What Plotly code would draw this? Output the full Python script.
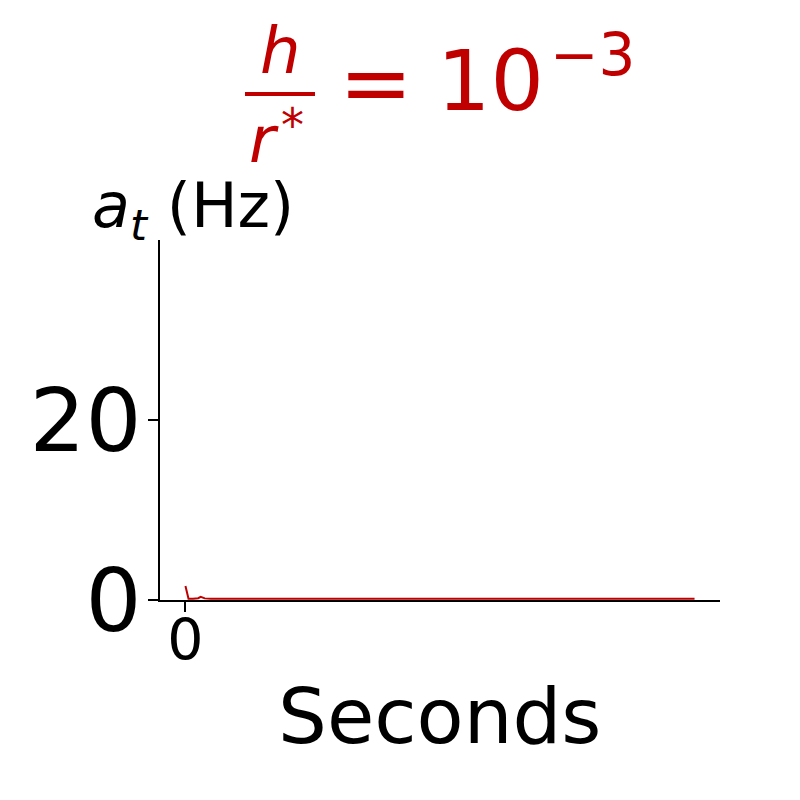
import plotly.graph_objects as go

# Data
t_seconds = [0.0, 0.06, 0.15, 0.25, 0.3, 0.38, 0.5, 1.0, 2.0, 3.0, 4.0, 4.4, 5.0, 6.0, 7.0, 8.0, 9.0, 10.0]
rate_hz = [1.55, 0.15, 0.15, 0.2, 0.35, 0.18, 0.15, 0.15, 0.15, 0.15, 0.15, 0.2, 0.15, 0.15, 0.15, 0.15, 0.15, 0.15]
y_ticks = [0, 20]
x_ticks = [0]

RED = "#c00000"
FONT = "DejaVu Sans"

L, R, T, B = 160, 720, 240, 600
def px(x):
    return (x - L) / (R - L)
def py(y):
    return (B - y) / (B - T)

fig = go.Figure()
fig.add_trace(go.Scatter(x=t_seconds, y=rate_hz, mode="lines",
                         line=dict(color=RED, width=2), showlegend=False))

tmax = max(t_seconds)
fig.update_layout(
    width=800, height=800,
    margin=dict(l=L, r=800 - R, t=T, b=800 - B),
    paper_bgcolor="white", plot_bgcolor="white",
    font=dict(family=FONT, color="black"),
    xaxis=dict(range=[-0.05 * tmax, 1.05 * tmax], tickvals=x_ticks,
               automargin=False,
               ticks="outside", ticklen=10, tickwidth=2, tickcolor="black",
               ticklabelstandoff=-20,
               showline=True, linecolor="black", linewidth=2,
               showgrid=False, zeroline=False,
               tickfont=dict(size=57, family=FONT, color="black")),
    yaxis=dict(range=[0, 40], tickvals=y_ticks,
               automargin=False,
               ticks="outside", ticklen=10, tickwidth=2, tickcolor="black",
               ticklabelstandoff=-11,
               showline=True, linecolor="black", linewidth=2,
               showgrid=False, zeroline=False,
               tickfont=dict(size=88, family=FONT, color="black")),
)

def ann(text, x, y, size, color="black", xanchor="center"):
    fig.add_annotation(text=text, x=px(x), y=py(y), xref="paper", yref="paper",
                       xanchor=xanchor, yanchor="middle", showarrow=False,
                       font=dict(size=size, family=FONT, color=color))

# Title: h / r* = 10^-3
ann("<i>h</i>", 280, 51, 64, RED)
fig.add_shape(type="line", xref="paper", yref="paper",
              x0=px(245), x1=px(315), y0=py(94), y1=py(94),
              line=dict(color=RED, width=4))
ann("<i>r</i>", 264, 140, 64, RED)
ann("*", 292, 125, 46, RED)
ann("=", 376, 82, 88, RED)
ann("10", 490, 81, 84, RED)
ann("\u22123", 593, 55, 58, RED)

# Y label
ann("<i>a</i><sub><i>t</i></sub> (Hz)", 90, 209, 62, "black", xanchor="left")
# X label
ann("Seconds", 440, 716, 77)

fig.write_html("out.html", config={"displayModeBar": False},
               post_script="document.body.style.margin='0';")
